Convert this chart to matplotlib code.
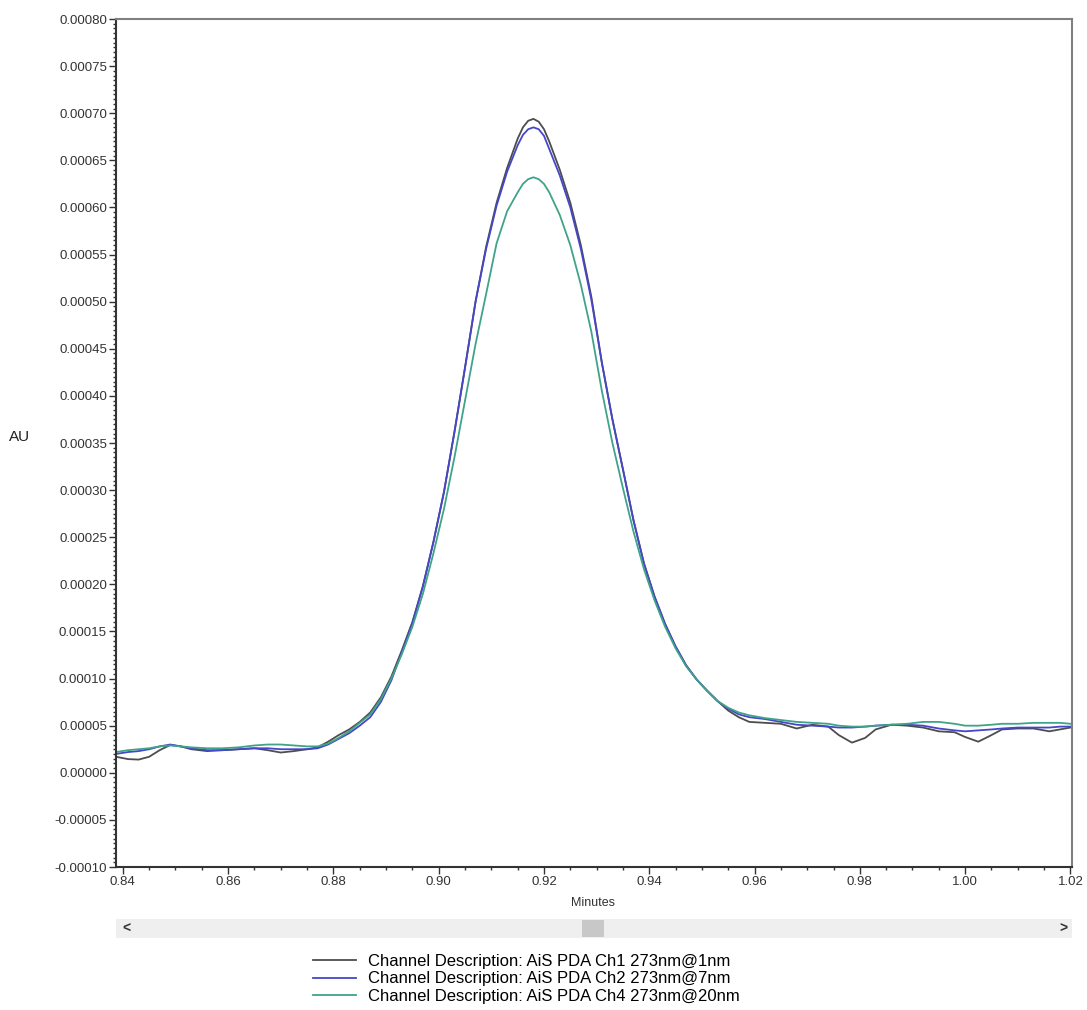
import matplotlib
matplotlib.use("Agg")
import matplotlib.pyplot as plt
from matplotlib.patches import Rectangle
from matplotlib.ticker import MultipleLocator, FormatStrFormatter
import numpy as np

plt.rcParams['font.family'] = ['Liberation Sans', 'DejaVu Sans']

# retention time (minutes)
t = [0.8387, 0.841, 0.843, 0.845, 0.847, 0.849, 0.851, 0.853, 0.856, 0.859,
     0.862, 0.865, 0.8675, 0.870, 0.8725, 0.875, 0.877, 0.879, 0.881, 0.883,
     0.885, 0.887, 0.889, 0.891, 0.893, 0.895, 0.897, 0.899, 0.901, 0.903,
     0.905, 0.907, 0.909, 0.911, 0.913, 0.915, 0.916, 0.917, 0.918, 0.919,
     0.920, 0.921,
     0.923, 0.925, 0.927, 0.929, 0.931, 0.933, 0.935, 0.937, 0.939, 0.941,
     0.943, 0.945, 0.947, 0.949, 0.951, 0.953, 0.955, 0.957, 0.959, 0.962,
     0.965, 0.968, 0.971, 0.974, 0.976, 0.9785, 0.981, 0.983, 0.986, 0.989,
     0.992, 0.995, 0.998, 1.000, 1.0025, 1.005, 1.007, 1.010, 1.013, 1.016,
     1.018, 1.020]

# absorbance in units of 1e-5 AU
ch1 = [1.7, 1.45, 1.4, 1.7, 2.4, 2.95, 2.8, 2.5, 2.3, 2.4,
       2.5, 2.6, 2.4, 2.15, 2.3, 2.5, 2.7, 3.3, 4.0, 4.6,
       5.4, 6.4, 8.0, 10.2, 13.0, 16.0, 19.8, 24.5, 29.8, 36.2,
       43.0, 50.0, 55.8, 60.5, 64.2, 67.3, 68.5, 69.2, 69.4, 69.1,
       68.3, 67.0,
       64.0, 60.5, 56.0, 50.5, 43.5, 37.5, 32.2, 26.8, 22.2, 18.7,
       15.8, 13.4, 11.4, 9.9, 8.7, 7.6, 6.6, 5.9, 5.4, 5.3,
       5.2, 4.7, 5.1, 4.9, 4.0, 3.2, 3.7, 4.6, 5.1, 5.0,
       4.8, 4.4, 4.3, 3.8, 3.3, 4.0, 4.6, 4.7, 4.7, 4.4,
       4.6, 4.8]

ch2 = [2.0, 2.2, 2.3, 2.5, 2.8, 3.0, 2.8, 2.6, 2.4, 2.4,
       2.5, 2.6, 2.6, 2.5, 2.5, 2.5, 2.6, 3.0, 3.6, 4.2,
       5.0, 5.9, 7.5, 9.8, 12.8, 15.9, 19.8, 24.5, 29.8, 36.2,
       43.0, 50.0, 55.6, 60.2, 63.8, 66.6, 67.7, 68.3, 68.5, 68.3,
       67.6, 66.2,
       63.4, 60.0, 55.6, 50.2, 43.5, 37.5, 32.2, 26.8, 22.2, 18.7,
       15.8, 13.4, 11.4, 9.9, 8.7, 7.6, 6.8, 6.2, 5.9, 5.7,
       5.4, 5.1, 5.0, 4.9, 4.8, 4.8, 4.9, 5.0, 5.1, 5.1,
       5.0, 4.7, 4.5, 4.4, 4.5, 4.6, 4.7, 4.8, 4.8, 4.8,
       4.9, 4.9]

ch4 = [2.2, 2.4, 2.5, 2.6, 2.8, 2.9, 2.8, 2.7, 2.6, 2.6,
       2.7, 2.9, 3.0, 3.0, 2.9, 2.8, 2.8, 3.1, 3.7, 4.4,
       5.3, 6.2, 7.8, 10.0, 12.6, 15.5, 19.0, 23.3, 28.0, 33.5,
       39.5, 45.5, 50.8, 56.2, 59.6, 61.6, 62.5, 63.0, 63.2, 63.0,
       62.5, 61.6,
       59.2, 56.0, 51.8, 46.8, 40.5, 35.0, 30.2, 25.6, 21.6, 18.3,
       15.5, 13.2, 11.3, 9.9, 8.7, 7.6, 6.9, 6.4, 6.1, 5.8,
       5.6, 5.4, 5.3, 5.2, 5.0, 4.9, 4.9, 5.0, 5.1, 5.2,
       5.4, 5.4, 5.2, 5.0, 5.0, 5.1, 5.2, 5.2, 5.3, 5.3,
       5.3, 5.2]

labels = ["Channel Description: AiS PDA Ch1 273nm@1nm",
          "Channel Description: AiS PDA Ch2 273nm@7nm",
          "Channel Description: AiS PDA Ch4 273nm@20nm"]
colors = ["#4d4d4d", "#4646c8", "#3fa38a"]

W, H = 1087, 1010
fig = plt.figure(figsize=(W / 100, H / 100), dpi=100)
ax = fig.add_axes([116 / W, 1 - 867 / H, (1072 - 116) / W, (867 - 19) / H])

tt = np.array(t)
handles = []
for ys, c, lab in zip([ch1, ch2, ch4], colors, labels):
    h, = ax.plot(tt, np.array(ys) * 1e-5, color=c, lw=1.3, label=lab)
    handles.append(h)

ax.set_xlim(0.8387, 1.0203)
ax.set_ylim(-0.0001, 0.0008)
ax.xaxis.set_major_locator(MultipleLocator(0.02))
ax.xaxis.set_minor_locator(MultipleLocator(0.005))
ax.yaxis.set_major_locator(MultipleLocator(0.00005))
ax.yaxis.set_minor_locator(MultipleLocator(0.000005))
ax.xaxis.set_major_formatter(FormatStrFormatter('%.2f'))
ax.yaxis.set_major_formatter(FormatStrFormatter('%.5f'))
ax.tick_params(which='major', length=5, width=1, color='#333333', labelsize=9.5,
               labelcolor='#333333', pad=1.5)
ax.tick_params(which='minor', length=2.5, width=1, color='#333333')
ax.tick_params(axis='x', which='both', top=False)
ax.tick_params(axis='y', which='both', right=False)
for s in ['top', 'right']:
    ax.spines[s].set_color('#808080')
    ax.spines[s].set_linewidth(1.5)
for s in ['left', 'bottom']:
    ax.spines[s].set_color('#333333')
    ax.spines[s].set_linewidth(1.5)

fig.text(20 / W, 1 - 437 / H, "AU", fontsize=11, ha='center', va='center', color='#222222')
fig.text(593 / W, 1 - 903 / H, "Minutes", fontsize=9, ha='center', va='center', color='#333333')

# scroll bar under the plot
fig.patches.append(Rectangle((116 / W, 1 - 938 / H), (1072 - 116) / W, 19 / H,
                             transform=fig.transFigure, facecolor='#efefef', edgecolor='none'))
fig.patches.append(Rectangle((582 / W, 1 - 937 / H), 22 / W, 17 / H,
                             transform=fig.transFigure, facecolor='#c8c8c8', edgecolor='none'))
fig.text(126 / W, 1 - 929 / H, "<", fontsize=10, fontweight='bold', ha='center', va='center', color='#333333')
fig.text(1063 / W, 1 - 929 / H, ">", fontsize=10, fontweight='bold', ha='center', va='center', color='#333333')

fig.legend(handles, labels, loc='center left', bbox_to_anchor=(313 / W, 1 - 979 / H),
           frameon=False, fontsize=12, handlelength=2.6, handletextpad=0.7,
           labelspacing=0.16, borderpad=0, borderaxespad=0)

fig.savefig("out.png", dpi=100)
